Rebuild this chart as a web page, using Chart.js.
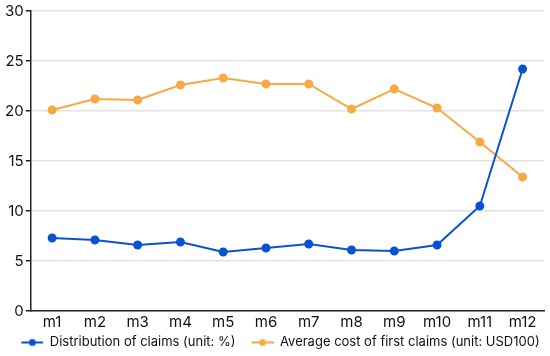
<!DOCTYPE html>
<html>
<head>
<meta charset="utf-8">
<script src="https://cdn.jsdelivr.net/npm/chart.js@4"></script>
<style>
  html, body { margin: 0; padding: 0; background: #fff; }
  #wrap { width: 550px; height: 356px; }
</style>
</head>
<body>
<div id="wrap"><canvas id="chart"></canvas></div>
<script>
const months = ['m1', 'm2', 'm3', 'm4', 'm5', 'm6', 'm7', 'm8', 'm9', 'm10', 'm11', 'm12'];
const claims_distribution = [7.3, 7.1, 6.6, 6.9, 5.9, 6.3, 6.7, 6.1, 6.0, 6.6, 10.5, 24.2];
const avg_first_cost = [20.1, 21.2, 21.1, 22.6, 23.3, 22.7, 22.7, 20.2, 22.2, 20.3, 16.9, 13.4];

const blue = '#0b52d1';
const orange = '#f7a944';

// legend marker: short line with a dot in the middle, blank space on the left as item gap
function legend_marker(color) {
    const c = document.createElement('canvas');
    c.width = 36; c.height = 10;
    const ctx = c.getContext('2d');
    ctx.strokeStyle = color;
    ctx.lineWidth = 2;
    ctx.beginPath(); ctx.moveTo(14, 5); ctx.lineTo(36, 5); ctx.stroke();
    ctx.fillStyle = color;
    ctx.beginPath(); ctx.arc(25, 5, 3.5, 0, Math.PI * 2); ctx.fill();
    return c;
}

const ctx = document.getElementById('chart').getContext('2d');
new Chart(ctx, {
    type: 'line',
    data: {
        labels: months,
        datasets: [{
            label: 'Distribution of claims (unit: %)',
            data: claims_distribution,
            borderColor: blue,
            backgroundColor: blue,
            borderWidth: 2,
            pointRadius: 3.5,
            tension: 0,
            fill: false
        }, {
            label: 'Average cost of first claims (unit: USD100)',
            data: avg_first_cost,
            borderColor: orange,
            backgroundColor: orange,
            borderWidth: 2,
            pointRadius: 3.5,
            tension: 0,
            fill: false
        }]
    },
    options: {
        responsive: true,
        maintainAspectRatio: false,
        animation: false,
        layout: { padding: { left: 3, right: 6, top: 4, bottom: -3 } },
        scales: {
            x: {
                offset: true,
                grid: { display: false, drawTicks: false },
                border: { color: '#222', width: 1.5 },
                ticks: { color: '#111', font: { family: 'Inter', size: 15, lineHeight: 1 }, padding: 4 }
            },
            y: {
                min: 0, max: 30,
                ticks: { stepSize: 5, color: '#111', font: { family: 'Inter', size: 15 }, padding: 2 },
                grid: { color: '#e2e2e2', lineWidth: 1.5, tickLength: 5, tickColor: '#222' },
                border: { color: '#222', width: 1.5 }
            }
        },
        plugins: {
            legend: {
                position: 'bottom',
                labels: {
                    usePointStyle: true,
                    pointStyleWidth: 36,
                    color: '#111',
                    font: { family: 'Inter', size: 13, lineHeight: 1 },
                    padding: 2,
                    boxHeight: 10,
                    generateLabels: (chart) => chart.data.datasets.map((ds, i) => ({
                        text: ds.label,
                        fontColor: '#111',
                        pointStyle: legend_marker(ds.borderColor),
                        datasetIndex: i,
                        hidden: false,
                        lineWidth: 0
                    }))
                }
            },
            tooltip: { enabled: false }
        }
    }
});
</script>
</body>
</html>
